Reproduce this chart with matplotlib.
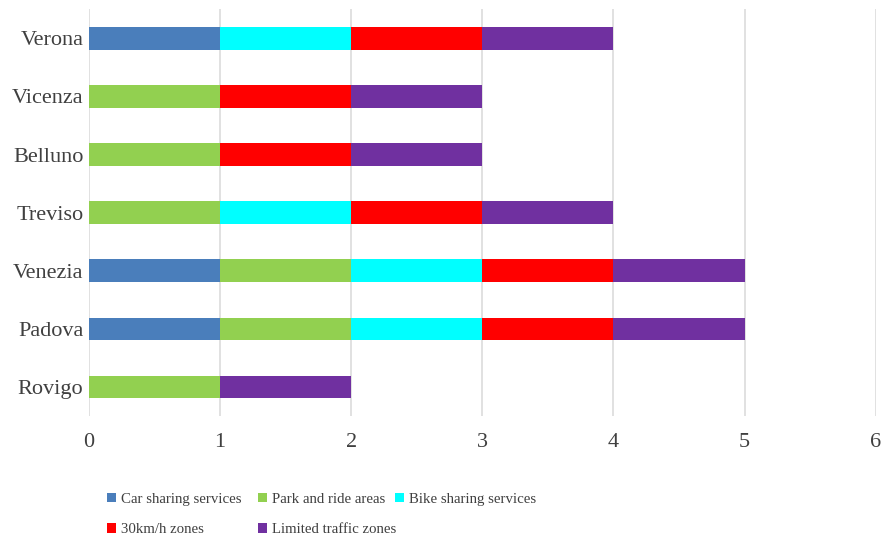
import matplotlib
matplotlib.use("Agg")
import matplotlib.pyplot as plt
import numpy as np

cities = ["Rovigo", "Padova", "Venezia", "Treviso", "Belluno", "Vicenza", "Verona"]
series = ["Car sharing services", "Park and ride areas", "Bike sharing services",
          "30km/h zones", "Limited traffic zones"]
car_sharing = [0, 1, 1, 0, 0, 0, 1]
park_ride = [1, 1, 1, 1, 1, 1, 0]
bike_sharing = [0, 1, 1, 1, 0, 0, 1]
zones_30 = [0, 1, 1, 1, 1, 1, 1]
limited_traffic = [1, 1, 1, 1, 1, 1, 1]
COLORS = ["#4a7ebb", "#92d050", "#00ffff", "#ff0000", "#7030a0"]

plt.rcParams["font.family"] = ["Liberation Serif", "DejaVu Serif"]

fig = plt.figure(figsize=(8.81, 5.39), dpi=100)
ax = fig.add_axes([0.101, 0.228, 0.893, 0.755])

y = np.arange(len(cities))
left = np.zeros(len(cities))
handles = []
for name, vals, col in zip(series, [car_sharing, park_ride, bike_sharing, zones_30, limited_traffic], COLORS):
    vals = np.array(vals, dtype=float)
    h = ax.barh(y, vals, left=left, height=0.39, color=col, label=name, zorder=3)
    handles.append(h)
    left += vals

ax.set_xlim(0, 6)
ax.set_ylim(-0.5, len(cities) - 0.5)
ax.set_xticks(range(7))
ax.set_yticks(y)
ax.set_yticklabels(cities)
ax.tick_params(axis="both", length=0, labelsize=16, colors="#404040")
ax.tick_params(axis="x", pad=12)
ax.tick_params(axis="y", pad=4)
ax.grid(axis="x", color="#d9d9d9", lw=1.1, zorder=0)
for s in ax.spines.values():
    s.set_visible(False)

# legend as three columns placed like the original (rows: Car/Park/Bike, 30km/Limited)
legend_cols = [([0, 3], 0.113), ([1, 4], 0.284), ([2], 0.440)]
for idx, x0 in legend_cols:
    fig.legend([handles[i] for i in idx], [series[i] for i in idx],
               loc="upper left", bbox_to_anchor=(x0, 0.100), frameon=False, borderpad=0,
               fontsize=10.7, handlelength=0.6, handleheight=0.6, handletextpad=0.35,
               labelspacing=1.2, labelcolor="#404040")

fig.savefig("out.png", dpi=100)
